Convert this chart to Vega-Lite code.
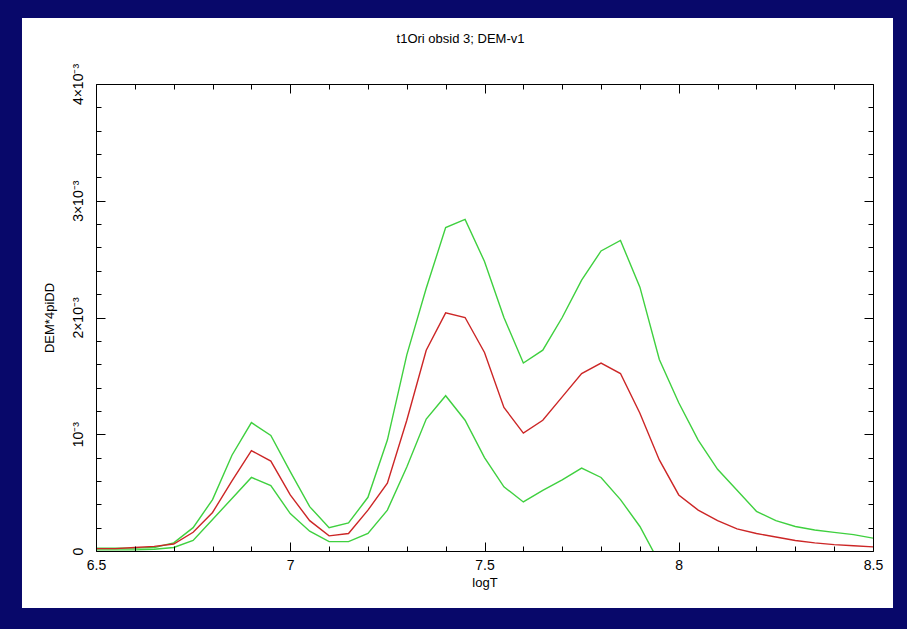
{
  "$schema": "https://vega.github.io/schema/vega-lite/v6.json",
  "width": 777,
  "height": 467,
  "autosize": "none",
  "padding": {"left": 96, "top": 84, "right": 34, "bottom": 78},
  "background": "#08086a",
  "config": {
    "view": {"stroke": null},
    "font": "Liberation Sans",
    "axis": {"domainColor": "black", "tickColor": "black", "labelColor": "black", "titleColor": "black", "labelFont": "Liberation Sans", "titleFont": "Liberation Sans", "labelFontSize": 14, "titleFontSize": 13, "titleFontWeight": "normal", "grid": false}
  },
  "title": {"text": "t1Ori obsid 3; DEM-v1", "fontSize": 13, "fontWeight": "normal", "color": "black", "font": "Liberation Sans", "offset": -28, "dx": -24},
  "datasets": {
    "dem": [
      {"logT": 6.50, "series": "upper", "v": 0.000025}, {"logT": 6.55, "series": "upper", "v": 0.000025}, {"logT": 6.60, "series": "upper", "v": 0.000025}, {"logT": 6.65, "series": "upper", "v": 0.00003}, {"logT": 6.70, "series": "upper", "v": 0.00007}, {"logT": 6.75, "series": "upper", "v": 0.0002}, {"logT": 6.80, "series": "upper", "v": 0.00044}, {"logT": 6.85, "series": "upper", "v": 0.00082}, {"logT": 6.90, "series": "upper", "v": 0.0011}, {"logT": 6.95, "series": "upper", "v": 0.00099}, {"logT": 7.00, "series": "upper", "v": 0.00068}, {"logT": 7.05, "series": "upper", "v": 0.00038}, {"logT": 7.10, "series": "upper", "v": 0.0002}, {"logT": 7.15, "series": "upper", "v": 0.00024}, {"logT": 7.20, "series": "upper", "v": 0.00046}, {"logT": 7.25, "series": "upper", "v": 0.00095}, {"logT": 7.30, "series": "upper", "v": 0.00168}, {"logT": 7.35, "series": "upper", "v": 0.00225}, {"logT": 7.40, "series": "upper", "v": 0.00277}, {"logT": 7.45, "series": "upper", "v": 0.00284}, {"logT": 7.50, "series": "upper", "v": 0.00248}, {"logT": 7.55, "series": "upper", "v": 0.002}, {"logT": 7.60, "series": "upper", "v": 0.00161}, {"logT": 7.65, "series": "upper", "v": 0.00172}, {"logT": 7.70, "series": "upper", "v": 0.002}, {"logT": 7.75, "series": "upper", "v": 0.00232}, {"logT": 7.80, "series": "upper", "v": 0.00257}, {"logT": 7.85, "series": "upper", "v": 0.00266}, {"logT": 7.90, "series": "upper", "v": 0.00226}, {"logT": 7.95, "series": "upper", "v": 0.00164}, {"logT": 8.00, "series": "upper", "v": 0.00127}, {"logT": 8.05, "series": "upper", "v": 0.00095}, {"logT": 8.10, "series": "upper", "v": 0.0007}, {"logT": 8.15, "series": "upper", "v": 0.00052}, {"logT": 8.20, "series": "upper", "v": 0.00034}, {"logT": 8.25, "series": "upper", "v": 0.00026}, {"logT": 8.30, "series": "upper", "v": 0.00021}, {"logT": 8.35, "series": "upper", "v": 0.00018}, {"logT": 8.40, "series": "upper", "v": 0.00016}, {"logT": 8.45, "series": "upper", "v": 0.00014}, {"logT": 8.50, "series": "upper", "v": 0.00011},
      {"logT": 6.50, "series": "lower", "v": 0.00001}, {"logT": 6.55, "series": "lower", "v": 0.00001}, {"logT": 6.60, "series": "lower", "v": 0.00001}, {"logT": 6.65, "series": "lower", "v": 0.000015}, {"logT": 6.70, "series": "lower", "v": 0.00003}, {"logT": 6.75, "series": "lower", "v": 0.00009}, {"logT": 6.80, "series": "lower", "v": 0.00027}, {"logT": 6.85, "series": "lower", "v": 0.00045}, {"logT": 6.90, "series": "lower", "v": 0.00063}, {"logT": 6.95, "series": "lower", "v": 0.00056}, {"logT": 7.00, "series": "lower", "v": 0.00032}, {"logT": 7.05, "series": "lower", "v": 0.00017}, {"logT": 7.10, "series": "lower", "v": 0.00008}, {"logT": 7.15, "series": "lower", "v": 0.00008}, {"logT": 7.20, "series": "lower", "v": 0.00015}, {"logT": 7.25, "series": "lower", "v": 0.00035}, {"logT": 7.30, "series": "lower", "v": 0.00072}, {"logT": 7.35, "series": "lower", "v": 0.00113}, {"logT": 7.40, "series": "lower", "v": 0.00133}, {"logT": 7.45, "series": "lower", "v": 0.00112}, {"logT": 7.50, "series": "lower", "v": 0.0008}, {"logT": 7.55, "series": "lower", "v": 0.00055}, {"logT": 7.60, "series": "lower", "v": 0.00042}, {"logT": 7.65, "series": "lower", "v": 0.00052}, {"logT": 7.70, "series": "lower", "v": 0.00061}, {"logT": 7.75, "series": "lower", "v": 0.00071}, {"logT": 7.80, "series": "lower", "v": 0.00063}, {"logT": 7.85, "series": "lower", "v": 0.00044}, {"logT": 7.90, "series": "lower", "v": 0.00021}, {"logT": 7.95, "series": "lower", "v": -0.0001},
      {"logT": 6.50, "series": "dem", "v": 0.00002}, {"logT": 6.55, "series": "dem", "v": 0.00002}, {"logT": 6.60, "series": "dem", "v": 0.00003}, {"logT": 6.65, "series": "dem", "v": 0.00004}, {"logT": 6.70, "series": "dem", "v": 0.00006}, {"logT": 6.75, "series": "dem", "v": 0.00016}, {"logT": 6.80, "series": "dem", "v": 0.00033}, {"logT": 6.85, "series": "dem", "v": 0.0006}, {"logT": 6.90, "series": "dem", "v": 0.00086}, {"logT": 6.95, "series": "dem", "v": 0.00077}, {"logT": 7.00, "series": "dem", "v": 0.00048}, {"logT": 7.05, "series": "dem", "v": 0.00026}, {"logT": 7.10, "series": "dem", "v": 0.00013}, {"logT": 7.15, "series": "dem", "v": 0.00015}, {"logT": 7.20, "series": "dem", "v": 0.00035}, {"logT": 7.25, "series": "dem", "v": 0.00058}, {"logT": 7.30, "series": "dem", "v": 0.00112}, {"logT": 7.35, "series": "dem", "v": 0.00172}, {"logT": 7.40, "series": "dem", "v": 0.00204}, {"logT": 7.45, "series": "dem", "v": 0.002}, {"logT": 7.50, "series": "dem", "v": 0.0017}, {"logT": 7.55, "series": "dem", "v": 0.00123}, {"logT": 7.60, "series": "dem", "v": 0.00101}, {"logT": 7.65, "series": "dem", "v": 0.00112}, {"logT": 7.70, "series": "dem", "v": 0.00132}, {"logT": 7.75, "series": "dem", "v": 0.00152}, {"logT": 7.80, "series": "dem", "v": 0.00161}, {"logT": 7.85, "series": "dem", "v": 0.00152}, {"logT": 7.90, "series": "dem", "v": 0.00118}, {"logT": 7.95, "series": "dem", "v": 0.00078}, {"logT": 8.00, "series": "dem", "v": 0.00048}, {"logT": 8.05, "series": "dem", "v": 0.00035}, {"logT": 8.10, "series": "dem", "v": 0.00026}, {"logT": 8.15, "series": "dem", "v": 0.00019}, {"logT": 8.20, "series": "dem", "v": 0.00015}, {"logT": 8.25, "series": "dem", "v": 0.00012}, {"logT": 8.30, "series": "dem", "v": 0.00009}, {"logT": 8.35, "series": "dem", "v": 0.00007}, {"logT": 8.40, "series": "dem", "v": 0.000055}, {"logT": 8.45, "series": "dem", "v": 0.000045}, {"logT": 8.50, "series": "dem", "v": 0.000035}
    ]
  },
  "layer": [
    {
      "data": {"values": [{"panel": "background"}]},
      "mark": {"type": "rect", "fill": "white", "clip": false, "zindex": 0},
      "encoding": {
        "x": {"datum": 6.3095, "type": "quantitative", "scale": {"domain": [6.5, 8.5], "nice": false, "zero": false},
          "axis": {"orient": "top", "zindex": 2, "values": [6.5,6.6,6.7,6.8,6.9,7.0,7.1,7.2,7.3,7.4,7.5,7.6,7.7,7.8,7.9,8.0,8.1,8.2,8.3,8.4,8.5], "labels": false, "title": null,
            "tickSize": {"condition": {"test": "abs(datum.value*2-round(datum.value*2))<0.001", "value": -9}, "value": -5}}},
        "x2": {"datum": 8.5515},
        "y": {"datum": 0.004565, "type": "quantitative", "scale": {"domain": [0, 0.004], "nice": false, "zero": false},
          "axis": {"orient": "right", "zindex": 2, "values": [0,0.0002,0.0004,0.0006,0.0008,0.001,0.0012,0.0014,0.0016,0.0018,0.002,0.0022,0.0024,0.0026,0.0028,0.003,0.0032,0.0034,0.0036,0.0038,0.004], "labels": false, "title": null,
            "tickSize": {"condition": {"test": "abs(datum.value*1000-round(datum.value*1000))<0.001", "value": -9}, "value": -5}}},
        "y2": {"datum": -0.000488}
      }
    },
    {
      "data": {"name": "dem"},
      "mark": {"type": "line", "strokeWidth": 1.4, "clip": true, "zindex": 1},
      "encoding": {
        "x": {"field": "logT", "type": "quantitative", "scale": {"domain": [6.5, 8.5], "nice": false, "zero": false},
          "axis": {"orient": "bottom", "zindex": 2, "values": [6.5,6.6,6.7,6.8,6.9,7.0,7.1,7.2,7.3,7.4,7.5,7.6,7.7,7.8,7.9,8.0,8.1,8.2,8.3,8.4,8.5], "title": "logT", "titlePadding": 4,
            "labelExpr": "abs(datum.value*2-round(datum.value*2))<0.001 ? format(datum.value, '~g') : ''",
            "labelPadding": 16, "labelFlush": false,
            "tickSize": {"condition": {"test": "abs(datum.value*2-round(datum.value*2))<0.001", "value": -9}, "value": -5}}},
        "y": {"field": "v", "type": "quantitative", "scale": {"domain": [0, 0.004], "nice": false, "zero": false},
          "axis": {"orient": "left", "zindex": 2, "values": [0,0.0002,0.0004,0.0006,0.0008,0.001,0.0012,0.0014,0.0016,0.0018,0.002,0.0022,0.0024,0.0026,0.0028,0.003,0.0032,0.0034,0.0036,0.0038,0.004], "title": "DEM*4piDD", "titlePadding": 15,
            "labelAngle": -90, "labelAlign": "center", "labelBaseline": "bottom", "labelPadding": 20, "labelFlush": false,
            "labelExpr": "abs(datum.value*1000-round(datum.value*1000))<0.001 ? (round(datum.value*1000)==0 ? '0' : (round(datum.value*1000)==1 ? '10⁻³' : round(datum.value*1000) + '×10⁻³')) : ''",
            "tickSize": {"condition": {"test": "abs(datum.value*1000-round(datum.value*1000))<0.001", "value": -9}, "value": -5}}},
        "color": {"field": "series", "type": "nominal", "scale": {"domain": ["upper", "lower", "dem"], "range": ["#3fd03f", "#3fd03f", "#cc2626"]}, "legend": null},
        "detail": {"field": "series"},
        "order": {"field": "logT", "type": "quantitative"}
      }
    }
  ],
  "resolve": {"axis": {"x": "independent", "y": "independent"}}
}
